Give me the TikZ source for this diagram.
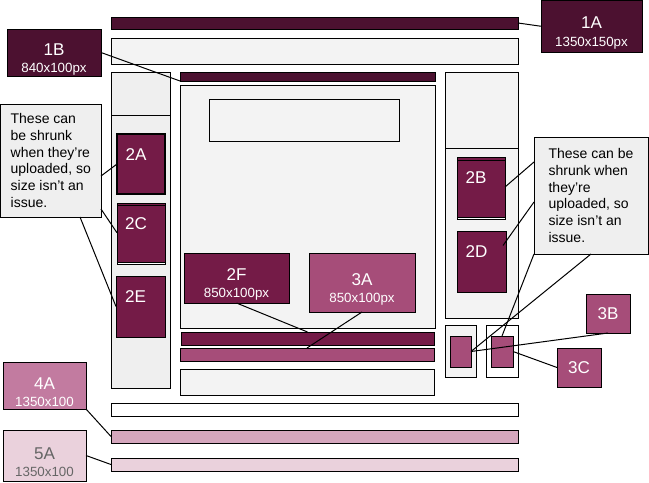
\documentclass[tikz,border=0pt]{standalone}
\usepackage{fontspec}
\setmainfont{Liberation Sans}

\definecolor{magA}{HTML}{4C1130}
\definecolor{magB}{HTML}{741B47}
\definecolor{magC}{HTML}{A64D79}
\definecolor{pinkA}{HTML}{C27BA0}
\definecolor{pinkB}{HTML}{D5A6BD}
\definecolor{pinkC}{HTML}{EAD1DC}
\definecolor{slotfill}{HTML}{F3F3F3}
\definecolor{sidefill}{HTML}{EFEFEF}

\newcommand\tagfont{\fontsize{12.8}{13}\selectfont}
\newcommand\dimfont{\fontsize{10}{12}\selectfont}
\newcommand\notefont{\fontsize{10.5}{12.5}\selectfont}

\tikzset{
  spot/.style n args={4}{at={(#1,#2)}, anchor=north west,
    minimum width=(#3-#1)*0.75pt, minimum height=(#4-#2)*0.75pt},
  area/.style={draw, line width=0.75pt, inner sep=0pt, outer sep=0pt},
  blank/.style={area, fill=white},
  slot/.style={area, fill=slotfill},
  side/.style={area, fill=sidefill},
  tagbox/.style={area, text=white, align=center, font=\tagfont},
  sizebox/.style={tagbox, text height=32pt},
  pic/.style={area, fill=magB},
  piclabel/.style={anchor=north, inner sep=0pt, text=white, font=\tagfont,
    xshift=-3.75pt, yshift=-10.5pt},
  note/.style={area, fill=sidefill, align=left, font=\notefont},
  link/.style={line width=0.75pt},
}

\begin{document}
\begin{tikzpicture}[x=0.75pt, y=-0.75pt]
  \useasboundingbox (0,0) rectangle (649,482);
  % header
  \node[area, fill=magA, spot={111}{17}{518}{29}] (bar1A) {};
  \node[slot, spot={111}{38}{518}{64}] (hdr) {};
  \node[sizebox, fill=magA, spot={541}{0.5}{642}{52}] (tag1A) {1A\\{\dimfont 1350x150px}};
  \node[sizebox, fill=magA, spot={7}{29}{101}{76}] (tag1B) {1B\\{\dimfont 840x100px}};
  % left sidebar
  \node[side, spot={111}{72}{170}{115}] (sideLt) {};
  \node[side, spot={111}{115}{170}{388}] (sideL) {};
  \node[pic, line width=1.5pt, spot={117}{134}{165}{194}, label={[piclabel]north:2A}] (b2A) {};
  \node[blank, spot={117}{203}{165}{264.5}] (f2C) {};
  \node[pic, spot={117}{203}{165}{262.5}, label={[piclabel]north:2C}] (b2C) {};
  \draw[link] ([shift={(0,2)}]b2C.north west) -- ([shift={(0,2)}]b2C.north east);
  \node[pic, spot={116}{276}{165}{337}, label={[piclabel]north:2E}] (b2E) {};
  % main column
  \node[area, fill=magA, spot={180}{72}{435}{81}] (bar1B) {};
  \node[slot, spot={180}{85}{435}{328}] (main) {};
  \node[slot, spot={209}{99}{399}{141}] (intro) {};
  \node[sizebox, fill=magB, spot={184}{253}{289}{303}] (tag2F) {2F\\{\dimfont 850x100px}};
  \node[sizebox, fill=magC, spot={309}{253}{415}{312}] (tag3A) {3A\\{\dimfont 850x100px}};
  \node[area, fill=magB, spot={181}{332}{434}{345}] (bar2F) {};
  \node[area, fill=magC, spot={180}{348}{434}{361}] (bar3A) {};
  \node[slot, spot={180}{369}{434}{395}] (foot) {};
  % right sidebar
  \node[slot, spot={445}{72}{518}{148}] (sideRt) {};
  \node[slot, spot={445}{148}{518}{318}] (sideR) {};
  \node[blank, spot={457}{157}{505}{219}] (f2B) {};
  \node[pic, spot={457}{157}{505}{217}, label={[piclabel]north:2B}] (b2B) {};
  \draw[link] ([shift={(0,3)}]b2B.north west) -- ([shift={(0,3)}]b2B.north east);
  \node[pic, spot={457}{231}{506}{292}, label={[piclabel]north:2D}] (b2D) {};
  \node[slot, spot={445}{325}{476}{377}] (boxL) {};
  \node[blank, spot={486}{325}{518}{377}] (boxR) {};
  \node[area, fill=magC, spot={450}{336}{471}{367}] (inL) {};
  \node[area, fill=magC, spot={491}{336}{513}{367}] (inR) {};
  \node[tagbox, fill=magC, spot={586}{294}{630}{333}] (tag3B) {3B};
  \node[tagbox, fill=magC, spot={557}{348}{601}{387}] (tag3C) {3C};
  % bottom bars
  \node[blank, spot={111}{403}{518}{416}] (barW) {};
  \node[area, fill=pinkB, spot={111}{430}{518}{443}] (bar4A) {};
  \node[area, fill=pinkC, spot={111}{458}{518}{471}] (bar5A) {};
  \node[sizebox, fill=pinkA, spot={3}{362}{86}{409}] (tag4A) {4A\\{\dimfont 1350x100}};
  \node[sizebox, fill=pinkC, text=black!60, spot={3}{430}{86}{481}] (tag5A) {5A\\{\dimfont 1350x100}};
  % notes
  \node[note, spot={0.5}{104}{101}{217}] (noteL) {These can\\be shrunk\\when they’re\\uploaded, so\\size isn’t an\\issue.};
  \node[note, spot={534}{137}{648}{254}] (noteR) {These can be\\shrunk when\\they’re\\uploaded, so\\size isn’t an\\issue.};
  % connectors
  \draw[link] (bar1A.east) -- (tag1A.west);
  \draw[link] (tag1B.east) -- (bar1B.south west);
  \draw[link] ([shift={(0,15.5)}]noteL.east) -- (b2A.west);
  \draw[link] ([shift={(0,-8)}]noteL.south east) -- (b2C.west);
  \draw[link] ([shift={(-21,0)}]noteL.south east) -- (b2E.west);
  \draw[link] ([shift={(0,25)}]noteR.north west) -- (b2B.east);
  \draw[link] ([shift={(0,65)}]noteR.north west) -- ([shift={(-3,-16)}]b2D.east);
  \draw[link] (noteR.south west) -- (inR.north);
  \draw[link] (noteR.south) -- (inL.east);
  \draw[link] (tag3B.south) -- (inL.east);
  \draw[link] (tag3C.west) -- (inR.east);
  \draw[link] (tag2F.south) -- (bar2F.north);
  \draw[link] (tag3A.south) -- (bar3A.north);
  \draw[link] (tag4A.south east) -- (bar4A.west);
  \draw[link] (tag5A.east) -- (bar5A.west);
\end{tikzpicture}
\end{document}
